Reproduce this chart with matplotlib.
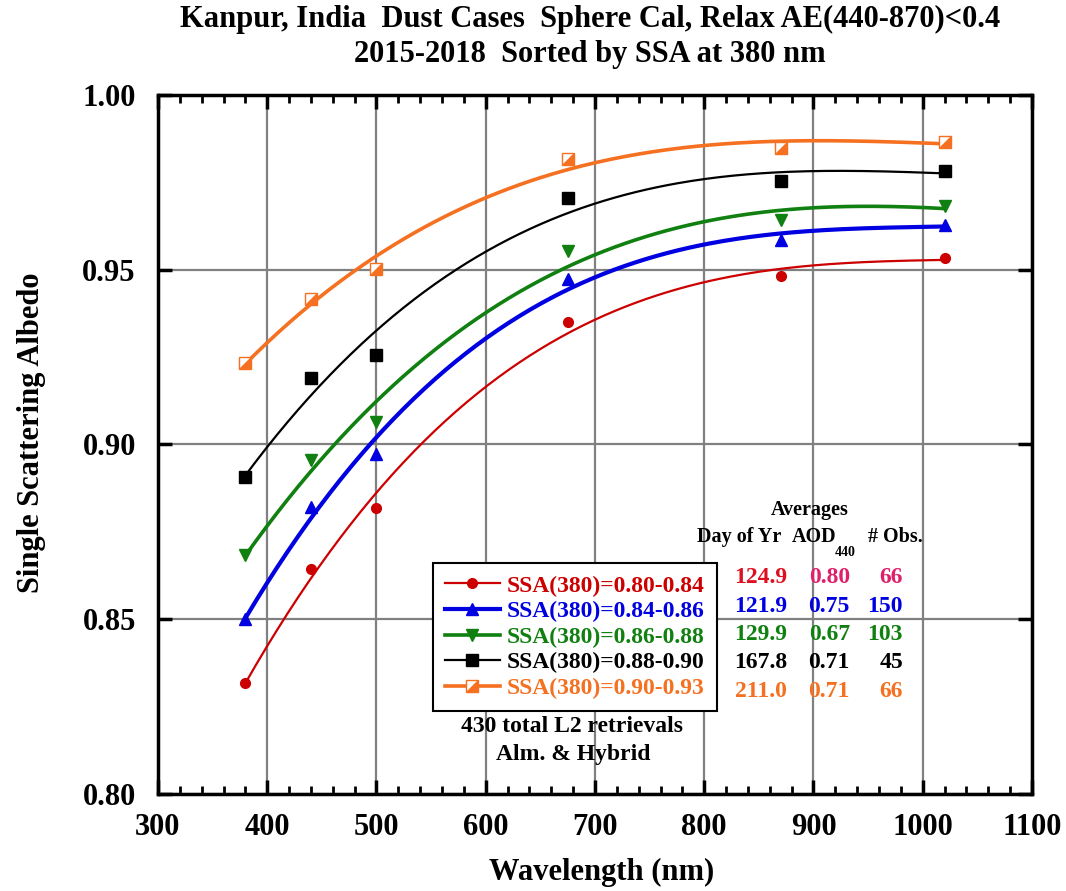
import matplotlib
matplotlib.use("Agg")
import matplotlib.pyplot as plt
import numpy as np
from matplotlib.lines import Line2D
from matplotlib.legend_handler import HandlerTuple
from matplotlib.ticker import MultipleLocator, FormatStrFormatter

# wavelengths (nm) and mean single scattering albedo per SSA(380) class
wavelength = [380, 440, 500, 675, 870, 1020]
ssa_080_084 = [0.8317, 0.8643, 0.8817, 0.9351, 0.9483, 0.9534]
ssa_084_086 = [0.8500, 0.8820, 0.8974, 0.9474, 0.9586, 0.9629]
ssa_086_088 = [0.8683, 0.8957, 0.9063, 0.9554, 0.9643, 0.9683]
ssa_088_090 = [0.8906, 0.9189, 0.9257, 0.9706, 0.9754, 0.9783]
ssa_090_093 = [0.9234, 0.9417, 0.9503, 0.9817, 0.9849, 0.9866]

labels = ["SSA(380)=0.80-0.84", "SSA(380)=0.84-0.86", "SSA(380)=0.86-0.88",
          "SSA(380)=0.88-0.90", "SSA(380)=0.90-0.93"]
colors = ["#cc0000", "#0000e0", "#108010", "#000000", "#f57020"]
line_widths = [1.6, 3.0, 2.6, 1.6, 2.6]

# averages table
day_of_yr = ["124.9", "121.9", "129.9", "167.8", "211.0"]
aod_440 = ["0.80", "0.75", "0.67", "0.71", "0.71"]
n_obs = ["66", "150", "103", "45", "66"]
table_colors = [("#dd1020", "#e0206a", "#e0206a"), ("#0000e0",) * 3,
                ("#108010",) * 3, ("#000000",) * 3, ("#f57020",) * 3]

plt.rcParams["font.family"] = ["Liberation Serif", "DejaVu Serif"]
plt.rcParams["font.weight"] = "bold"

fig = plt.figure(figsize=(10.66, 8.91), dpi=100)
ax = fig.add_axes([0.1482, 0.1089, 0.8199, 0.7845])

# lower-right half of a square, used for the half-filled markers
half_sq = [(-1, -1), (1, -1), (1, 1), (-1, -1)]

series = [ssa_080_084, ssa_084_086, ssa_086_088, ssa_088_090, ssa_090_093]
markers = ["o", "^", "v", "s", "s"]
sizes = [7, 8, 8, 8, 8]
handles = []
xfit = np.linspace(wavelength[0], wavelength[-1], 200)
for i, ys in enumerate(series):
    # cubic fit through each class
    coef = np.polyfit(wavelength, ys, 3)
    ax.plot(xfit, np.polyval(coef, xfit), color=colors[i], lw=line_widths[i], zorder=3)
    if i < 4:
        ax.plot(wavelength, ys, ls="none", marker=markers[i], ms=sizes[i],
                color=colors[i], mec=colors[i], zorder=4)
        handles.append(Line2D([], [], color=colors[i], lw=line_widths[i],
                              marker=markers[i], ms=sizes[i]))
    else:
        ax.plot(wavelength, ys, ls="none", marker="s", ms=8, mfc="white",
                mec=colors[i], mew=1.0, zorder=4)
        ax.plot(wavelength, ys, ls="none", marker=half_sq, ms=8,
                color=colors[i], zorder=5)
        h1 = Line2D([], [], color=colors[i], lw=line_widths[i], marker="s", ms=8,
                    mfc="white", mec=colors[i], mew=1.0)
        h2 = Line2D([], [], ls="none", marker=half_sq, ms=8, color=colors[i])
        handles.append((h1, h2))

leg = ax.legend(handles, labels, loc="upper left", bbox_to_anchor=(0.3146, 0.3305),
                borderaxespad=0, fancybox=False, framealpha=1, edgecolor="black",
                prop={"size": 17, "weight": "bold"}, handlelength=2.3,
                handletextpad=0.3, labelspacing=0.17, borderpad=0.52,
                handler_map={tuple: HandlerTuple(ndivide=1)})
leg.get_frame().set_linewidth(1.5)
leg.set_zorder(6)
for txt, c in zip(leg.get_texts(), colors):
    txt.set_color(c)

ax.set_xlim(300, 1100)
ax.set_ylim(0.80, 1.00)
ax.xaxis.set_major_locator(MultipleLocator(100))
ax.xaxis.set_minor_locator(MultipleLocator(20))
ax.yaxis.set_major_locator(MultipleLocator(0.05))
ax.yaxis.set_major_formatter(FormatStrFormatter("%.2f"))
ax.tick_params(which="both", direction="in", top=True, right=True)
ax.tick_params(which="major", length=10, width=2.5, labelsize=22)
ax.tick_params(axis="x", which="major", pad=14)
ax.tick_params(axis="y", which="major", pad=16)
ax.tick_params(which="minor", length=6, width=2)
for s in ax.spines.values():
    s.set_linewidth(2.5)
ax.grid(True, which="major", color="#808080", lw=1.6)
ax.set_axisbelow(True)

ax.set_xlabel("Wavelength (nm)", fontsize=22, fontweight="bold")
ax.set_ylabel("Single Scattering Albedo", fontsize=22, fontweight="bold")
ax.xaxis.set_label_coords(0.508, -0.092)
ax.yaxis.set_label_coords(-0.128, 0.5165)

fig.text(0.5535, 0.9776, "Kanpur, India  Dust Cases  Sphere Cal, Relax AE(440-870)<0.4",
         ha="center", va="center", fontsize=22, fontweight="bold")
fig.text(0.5535, 0.9383, "2015-2018  Sorted by SSA at 380 nm",
         ha="center", va="center", fontsize=22, fontweight="bold")

# averages table beside the legend
fs = 17
hs = 14.5
ax.text(896.8, 0.8813, "Averages", ha="center", va="center", fontsize=hs)
ax.text(793.4, 0.8735, "Day of Yr", ha="left", va="center", fontsize=hs)
ax.text(880.3, 0.8735, "AOD", ha="left", va="center", fontsize=hs)
ax.text(919.5, 0.8692, "440", ha="left", va="center", fontsize=10)
ax.text(949.9, 0.8735, "# Obs.", ha="left", va="center", fontsize=hs)
row_y = [0.8618, 0.8535, 0.8455, 0.8375, 0.8292]
for i in range(5):
    c1, c2, c3 = table_colors[i]
    ax.text(875.7, row_y[i], day_of_yr[i], ha="right", va="center", fontsize=fs, color=c1)
    ax.text(933.4, row_y[i], aod_440[i], ha="right", va="center", fontsize=fs, color=c2)
    ax.text(981.9, row_y[i], n_obs[i], ha="right", va="center", fontsize=fs, color=c3)

ax.text(679.4, 0.8192, "430 total L2 retrievals", ha="center", va="center", fontsize=fs)
ax.text(680.3, 0.8112, "Alm. & Hybrid", ha="center", va="center", fontsize=fs)

fig.savefig("out.png", dpi=100)
